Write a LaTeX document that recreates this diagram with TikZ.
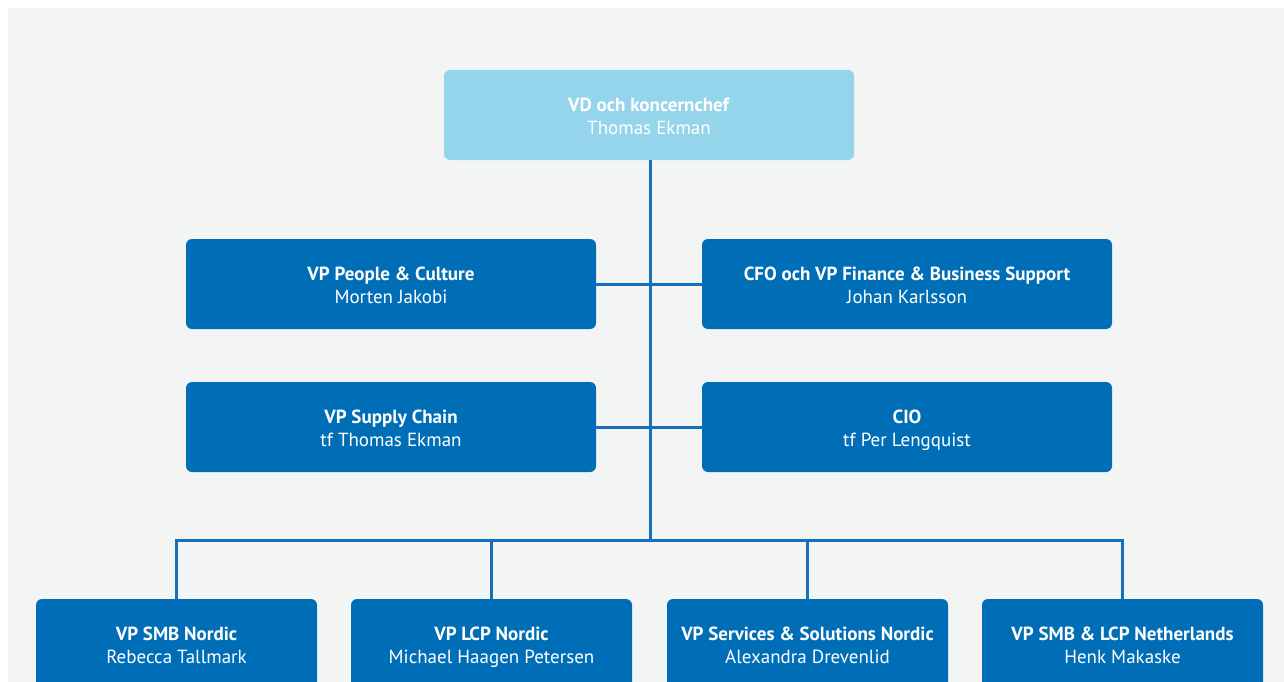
\documentclass[tikz,border=0pt]{standalone}
\usepackage{fontspec}
\setmainfont{PT Sans}
\definecolor{bg}{HTML}{F3F5F5}
\definecolor{darkbox}{HTML}{006EB7}
\definecolor{lightbox}{HTML}{95D5EC}
\definecolor{linec}{HTML}{1670B9}
\tikzset{
  box/.style={draw=none, fill=darkbox, rounded corners=6pt, minimum width=410pt, minimum height=90pt,
    text=white, align=center, inner sep=0pt, font=\fontsize{19}{23}\selectfont},
  sbox/.style={box, minimum width=281pt},
  topbox/.style={box, fill=lightbox},
  conn/.style={draw=linec, line width=3pt}
}
\newcommand{\bx}[2]{\raisebox{-3pt}[\height][\depth]{\begin{tabular}{@{}c@{}}\textbf{#1}\\#2\end{tabular}}}
\begin{document}
\begin{tikzpicture}[x=1pt,y=-1pt]
\useasboundingbox (0,0) rectangle (1284,682);
\clip (0,0) rectangle (1284,682);
\fill[bg] (8,8) rectangle (1284,682);
\renewcommand{\arraystretch}{1}
\node[topbox] (ceo) at (649,115) {\bx{VD och koncernchef}{Thomas Ekman}};
\node[box] (pc) at (391,284) {\bx{VP People \& Culture}{Morten Jakobi}};
\node[box] (cfo) at (907,284) {\bx{CFO och VP Finance \& Business Support}{Johan Karlsson}};
\node[box] (sc) at (391,427) {\bx{VP Supply Chain}{tf Thomas Ekman}};
\node[box] (cio) at (907,427) {\bx{CIO}{tf Per Lengquist}};
\node[sbox] (b1) at (176.5,644) {\bx{VP SMB Nordic}{Rebecca Tallmark}};
\node[sbox] (b2) at (491.5,644) {\bx{VP LCP Nordic}{Michael Haagen Petersen}};
\node[sbox] (b3) at (807.5,644) {\bx{VP Services \& Solutions Nordic}{Alexandra Drevenlid}};
\node[sbox] (b4) at (1122.5,644) {\bx{VP SMB \& LCP Netherlands}{Henk Makaske}};
\coordinate (bus) at (650,540);
\draw[conn] (ceo.south -| bus) -- (bus);
\draw[conn] (pc.east) -- (cfo.west);
\draw[conn] (sc.east) -- (cio.west);
\draw[conn] (b1.north) |- (bus) -| (b4.north);
\draw[conn] (b2.north) -- (b2.north |- bus);
\draw[conn] (b3.north) -- (b3.north |- bus);
\end{tikzpicture}
\end{document}
